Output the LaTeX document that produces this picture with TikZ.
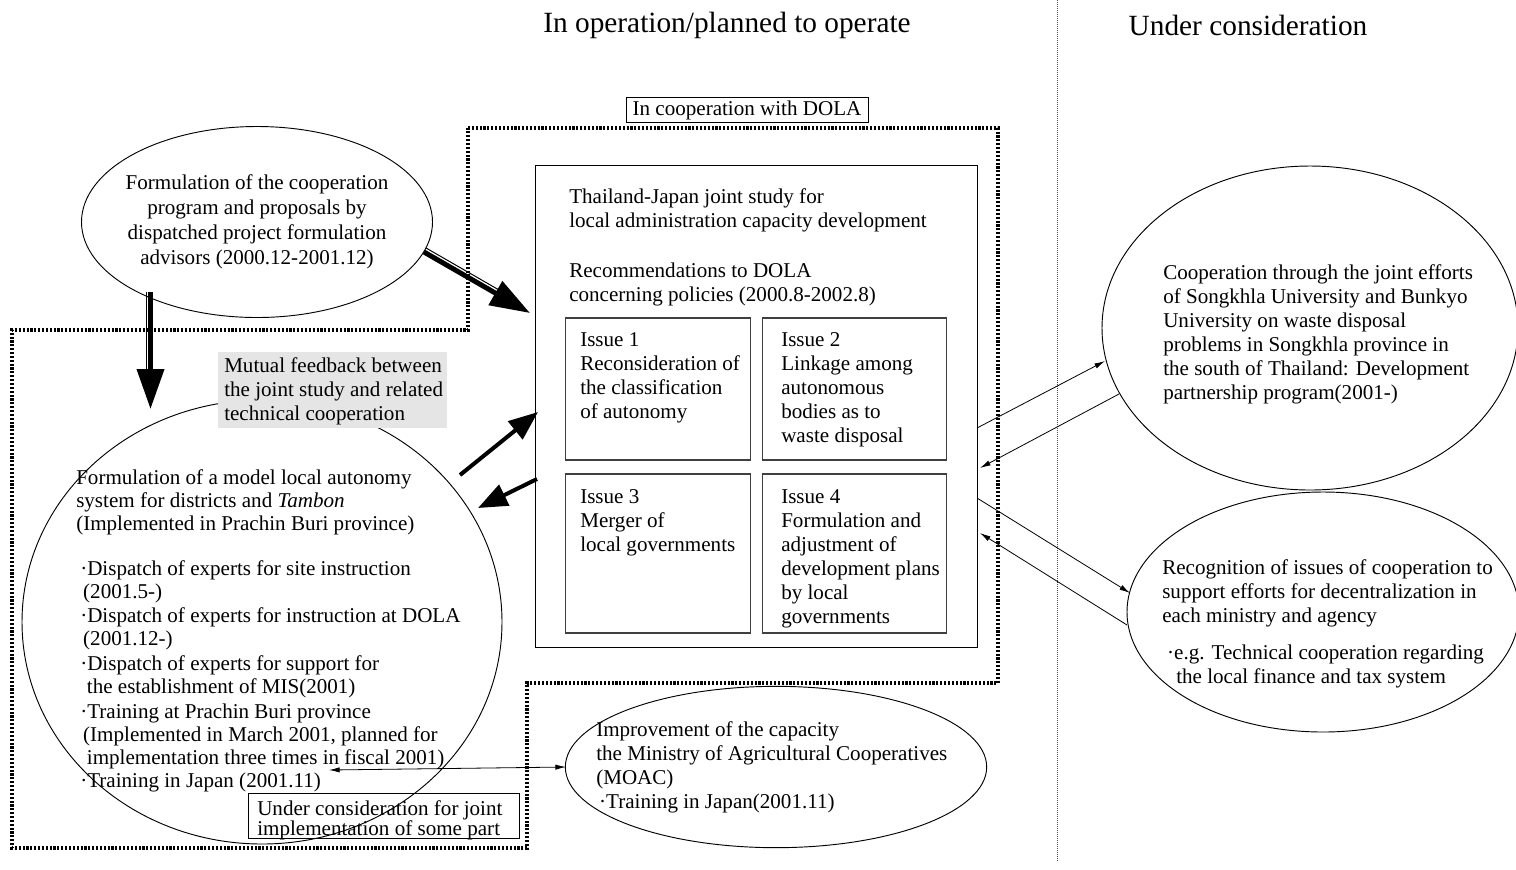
\documentclass[tikz,border=0pt]{standalone}
\usepackage{fontspec}
\setmainfont{Liberation Serif}
\usetikzlibrary{shapes.geometric,arrows.meta,calc}
\definecolor{mfgray}{RGB}{229,229,229}
\begin{document}
\begin{tikzpicture}[x=0.75pt,y=-0.75pt,
  every node/.style={inner sep=0pt, font=\fontsize{15.8}{18}\selectfont},
  lbl/.style={align=left, anchor=north west},
  ell/.style={draw, ellipse, line width=0.7pt},
  frame/.style={draw, rectangle, line width=0.7pt},
  issuebox/.style={draw=black!75, rectangle, line width=0.8pt, minimum width=138.4pt},
  regionline/.style={line width=2.4pt, dash pattern=on 1.6pt off 1.3pt},
  sepline/.style={line width=0.5pt, black!70, dash pattern=on 0.75pt off 0.75pt},
  thinarr/.style={line width=0.6pt, -{Latex[length=8pt,width=4pt]}},
  bothtip/.style={line width=0.6pt, {Latex[length=8pt,width=4pt]}-{Latex[length=8pt,width=4pt]}},
  bigarr/.style={line width=3pt, -{Triangle[length=22pt,width=17pt]}},
  dblarr/.style={line width=3.75pt, -{Triangle[length=30pt,width=20pt]}},
  stripe/.style={line width=0.75pt},
  title/.style={font=\fontsize{22}{26}\selectfont}
]
\useasboundingbox (0,0) rectangle (1516,869);

% titles and separator
\node[title] (t1) at (727,25) {In operation/planned to operate};
\node[title] (t2) at (1248,25) {Under consideration};
\coordinate (sepTop) at (1057,0);
\coordinate (sepBot) at (1057,862);
\draw[sepline] (sepTop) -- (sepBot);

% DOLA cooperation region
\node[frame, minimum width=181.5pt, minimum height=18.75pt] (dola) at (747,110) {In cooperation with DOLA};
\draw[regionline] (468,128) -- (998,128) -- (998,683) -- (527,683) -- (527,848) -- (12,848) -- (12,330) -- (468,330) -- cycle;

% top-left ellipse
\node[ell, minimum width=263.25pt, minimum height=143.25pt] (e1) at (257,222) {};
\node[align=center, font=\fontsize{15.8}{18.75}\selectfont] (e1t) at (257,222)
  {Formulation of the cooperation\\program and proposals by\\dispatched project formulation\\advisors (2000.12-2001.12)};

% joint study box
\node[frame, minimum width=331.5pt, minimum height=361.5pt] (study) at (756,406) {};
\node[lbl] (studyA) at (569,188) {Thailand-Japan joint study for\\local administration capacity development};
\node[lbl] (studyB) at (569,263) {Recommendations to DOLA\\concerning policies (2000.8-2002.8)};

\node[issuebox, minimum height=106.5pt] (i1) at (658,389) {};
\node[issuebox, minimum height=106.5pt] (i2) at (854.5,389) {};
\node[issuebox, minimum height=119.25pt] (i3) at (658,553.5) {};
\node[issuebox, minimum height=119.25pt] (i4) at (854.5,553.5) {};
\node[lbl] (i1t) at (580,332) {Issue 1\\Reconsideration of\\the classification\\of autonomy};
\node[lbl] (i2t) at (781,332) {Issue 2\\Linkage among\\autonomous\\bodies as to\\waste disposal};
\node[lbl] (i3t) at (580,489) {Issue 3\\Merger of\\local governments};
\node[lbl] (i4t) at (781,489) {Issue 4\\Formulation and\\adjustment of\\development plans\\by local\\governments};

% left big ellipse
\node[ell, minimum width=360pt, minimum height=333pt] (e3) at (262,622) {};
\node[fill=mfgray, minimum width=171.75pt, minimum height=57pt] (mf) at (332.5,390) {};
\node[lbl] (mft) at (224,357) {Mutual feedback between\\the joint study and related\\technical cooperation};
\node[lbl, font=\fontsize{15.8}{17.25}\selectfont] (e3h) at (76,469)
  {Formulation of a model local autonomy\\system for districts and \textit{Tambon}\\(Implemented in Prachin Buri province)};
\node[lbl, font=\fontsize{15.8}{17.25}\selectfont] (e3b) at (80,560)
  {·Dispatch of experts for site instruction\\
   \hspace{2.2pt}(2001.5-)\\[1.3pt]
   ·Dispatch of experts for instruction at DOLA\\
   \hspace{2.2pt}(2001.12-)\\[1.3pt]
   ·Dispatch of experts for support for\\
   \hspace{5pt}the establishment of MIS(2001)\\[1.3pt]
   ·Training at Prachin Buri province\\
   \hspace{2.2pt}(Implemented in March 2001, planned for\\
   \hspace{5pt}implementation three times in fiscal 2001)\\[0.5pt]
   ·Training in Japan (2001.11)};
\node[frame, minimum width=203.25pt, minimum height=33.75pt] (uc) at (383.5,815.5) {};
\node[lbl, font=\fontsize{15.8}{15}\selectfont] (uct) at (257,800)
  {Under consideration for joint\\implementation of some part};

% MOAC ellipse
\node[ell, minimum width=316pt, minimum height=121pt] (e4) at (776,767) {};
\node[lbl] (e4t) at (596,721)
  {Improvement of the capacity\\the Ministry of Agricultural Cooperatives\\(MOAC)\\\hspace{2.2pt}·Training in Japan(2001.11)};

% right ellipses
\node[ell, minimum width=312pt, minimum height=243pt] (e5) at (1310,328) {};
\node[lbl] (e5t) at (1163,264)
  {Cooperation through the joint efforts\\of Songkhla University and Bunkyo\\University on waste disposal\\problems in Songkhla province in\\the south of Thailand: Development\\partnership program(2001-)};
\node[ell, minimum width=294pt, minimum height=180pt] (e6) at (1323,612) {};
\node[lbl] (e6t) at (1162,559)
  {Recognition of issues of cooperation to\\support efforts for decentralization in\\each ministry and agency\\[10pt]
   \hspace{3.7pt}·e.g. Technical cooperation regarding\\
   \hspace{10.5pt}the local finance and tax system};

% double-line arrows from the top-left ellipse
\coordinate (da1s) at (150.5,292);
\coordinate (da1t) at (150.5,409);
\draw[stripe] ($(da1s)+(-4.5,0)$) -- ($(da1t)+(-4.5,-36)$);
\draw[dblarr] (da1s) -- (da1t);
\coordinate (da2s) at (424,252);
\coordinate (da2t) at (530,313);
\draw[stripe] ($(da2s)+(2.25,-3.9)$) -- ($(da2s)!0.72!(da2t)+(2.25,-3.9)$);
\draw[dblarr] (da2s) -- (da2t);

% mutual feedback arrows
\coordinate (m1s) at (460,475);
\coordinate (m1t) at (538,412);
\coordinate (m2s) at (537,479);
\coordinate (m2t) at (478,508);
\draw[bigarr] (m1s) -- (m1t);
\draw[bigarr] (m2s) -- (m2t);

% thin arrows to the right
\coordinate (a1s) at (977,428);
\coordinate (a1t) at (1105,361);
\coordinate (a2s) at (1119,394);
\coordinate (a2t) at (980,468);
\coordinate (a3s) at (977,498);
\coordinate (a3t) at (1130,593);
\coordinate (a4s) at (1127,625);
\coordinate (a4t) at (980,533);
\draw[thinarr] (a1s) -- (a1t);
\draw[thinarr] (a2s) -- (a2t);
\draw[thinarr] (a3s) -- (a3t);
\draw[thinarr] (a4s) -- (a4t);

% bottom two-way arrow
\coordinate (b1) at (329,770);
\coordinate (b2) at (566,767);
\draw[bothtip] (b1) -- (b2);
\end{tikzpicture}
\end{document}
